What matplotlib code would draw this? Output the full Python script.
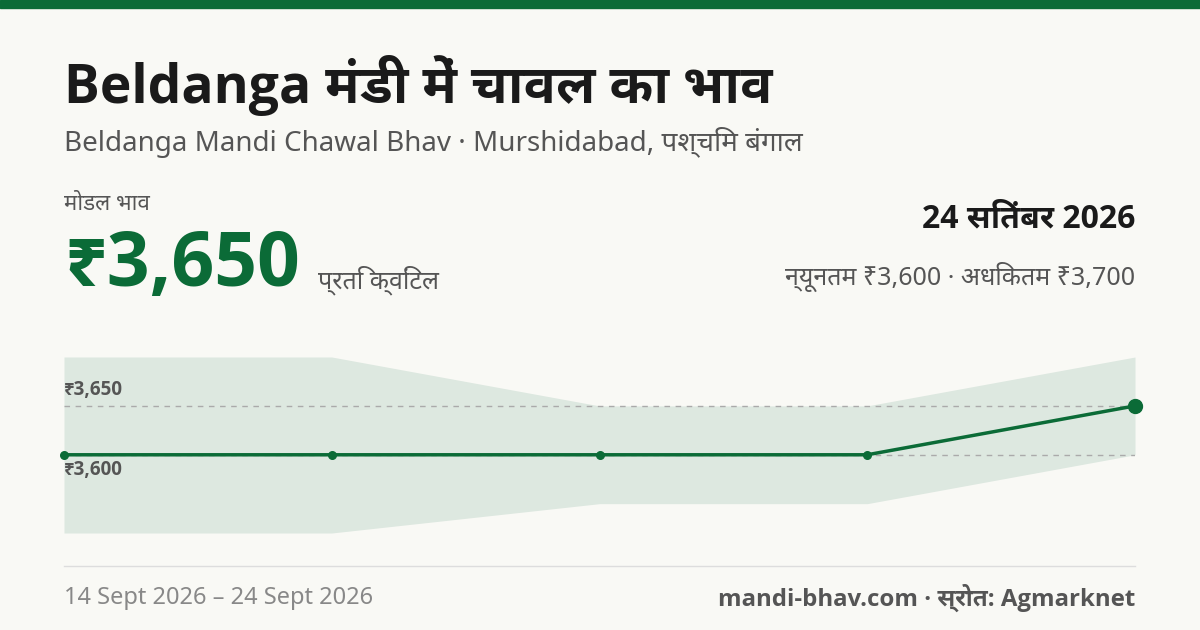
import matplotlib
matplotlib.use("Agg")
import matplotlib.pyplot as plt

REG = ["Noto Sans", "Noto Sans Devanagari", "Mukta", "DejaVu Sans"]
BOLD = ["Open Sans", "Noto Sans Devanagari UI", "Mukta", "DejaVu Sans"]
plt.rcParams["font.family"] = REG

dates = ["14 Sept", "16 Sept", "19 Sept", "22 Sept", "24 Sept"]
modal = [3600, 3600, 3600, 3600, 3650]
low = [3520, 3520, 3550, 3550, 3600]
high = [3700, 3700, 3650, 3650, 3700]

BG = "#f9f9f5"
GREEN = "#0b6b37"
W, H = 1200, 630

fig = plt.figure(figsize=(12, 6.3), dpi=100, facecolor=BG)
fig.add_artist(plt.Rectangle((0, 1 - 8 / H), 1, 8 / H, transform=fig.transFigure, color=GREEN))


def t(x, y, s, bold=False, **kw):
    if bold:
        kw.update(family=BOLD, fontweight="bold")
    fig.text(x / W, 1 - y / H, s, **kw)


t(64, 85, "Beldanga मंडी में चावल का भाव", bold=True, fontsize=38.5, color="#1a1a1a", va="center")
t(64, 142, "Beldanga Mandi Chawal Bhav · Murshidabad, पश्चिम बंगाल", fontsize=20, color="#555555", va="center")
t(64, 204, "मोडल भाव", fontsize=16, color="#555555", va="center")
t(64, 266, "₹3,650", bold=True, fontsize=54, color=GREEN, va="center")
t(318, 280, "प्रति क्विंटल", fontsize=18, color="#555555", va="center")
t(1135, 219, "24 सितंबर 2026", bold=True, fontsize=23, color="#1a1a1a", va="center", ha="right")
t(1135, 277, "न्यूनतम ₹3,600 · अधिकतम ₹3,700", fontsize=18, color="#555555", va="center", ha="right")
t(64, 598, "14 Sept 2026 – 24 Sept 2026", fontsize=17, color="#888888", va="center")
t(1135, 598, "mandi-bhav.com · स्रोत: Agmarknet", bold=True, fontsize=17.3, color="#555555", va="center", ha="right")
fig.add_artist(plt.Line2D([64 / W, 1135 / W], [1 - 566 / H] * 2, color="#dddddd", lw=1))

ax = fig.add_axes([64 / W, 1 - 533 / H, (1135 - 64) / W, (533 - 357) / H])
ax.set_facecolor("none")
x = list(range(len(dates)))
ax.fill_between(x, low, high, color="#dde8e0", lw=0)
for v in (3600, 3650):
    ax.axhline(v, color="#aaaaaa", lw=1, ls=(0, (4, 4)))
ax.plot(x, modal, color=GREEN, lw=2.5)
ax.scatter(x[:-1], modal[:-1], s=30, color=GREEN, zorder=3, clip_on=False)
ax.scatter(x[-1:], modal[-1:], s=100, color=GREEN, zorder=3, clip_on=False)
ax.text(0, 3650 + 6, "₹3,650", family=BOLD, fontweight="bold", fontsize=13.5, color="#555555", va="bottom")
ax.text(0, 3600 - 5, "₹3,600", family=BOLD, fontweight="bold", fontsize=13.5, color="#555555", va="top")
ax.set_xlim(0, len(dates) - 1)
ax.set_ylim(3520, 3700)
ax.axis("off")

fig.savefig("out.png", facecolor=BG)
